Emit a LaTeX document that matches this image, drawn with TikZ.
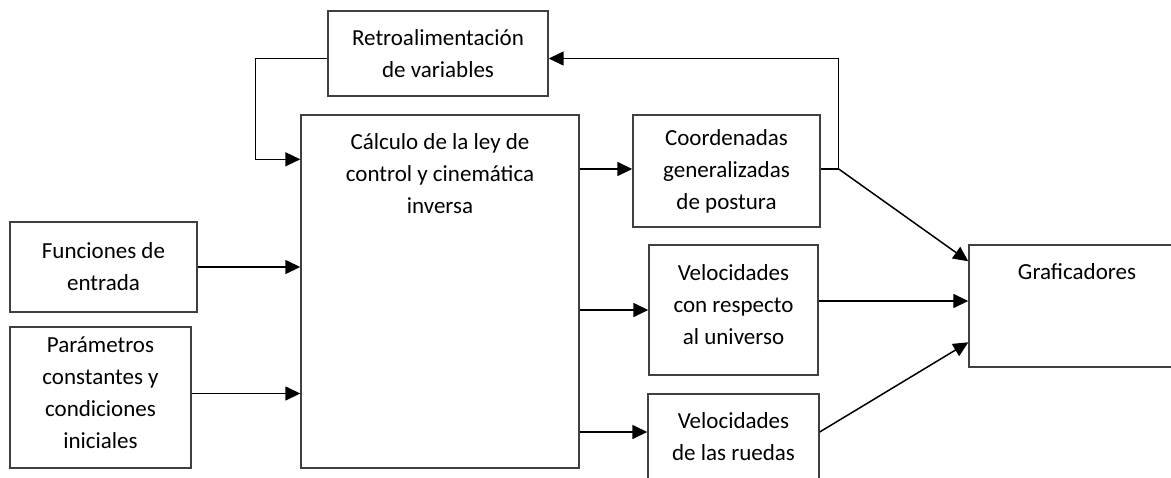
\documentclass[tikz,border=0pt]{standalone}
\usepackage{fontspec}
\setmainfont{Carlito}
\usetikzlibrary{arrows.meta}
\begin{document}
\begin{tikzpicture}
		[x=1pt, y=-1pt,
		b/.style= {draw=black!75, line width=1.4pt, rectangle, inner sep=0pt},
		t/.style= {align=center, font=\fontsize{23}{32}\selectfont, inner sep=0pt},
		a/.style= {line width=1.5pt, -{Triangle[length=15pt,width=14pt]}},
		l/.style= {line width=1.5pt}]

		\useasboundingbox (0,0) rectangle (1171,477);

		\node[b, minimum width=220, minimum height=85] (retro) at (438,53.5) {};
		\node[t] (retroT) at (retro) {Retroalimentación\\de variables};

		\node[b, minimum width=278, minimum height=353] (calc) at (440,291.5) {};
		\node[t, anchor=north] (calcT) at ([yshift=-19pt]calc.north) {Cálculo de la ley de\\control y cinemática\\inversa};

		\node[b, minimum width=187, minimum height=90] (fun) at (103.5,267) {};
		\node[t] (funT) at (fun) {Funciones de\\entrada};

		\node[b, minimum width=181, minimum height=141] (par) at (100.5,397.5) {};
		\node[t] (parT) at ([yshift=5pt]par) {Parámetros\\constantes y\\condiciones\\iniciales};

		\node[b, minimum width=187, minimum height=112] (coord) at (726.5,171) {};
		\node[t] (coordT) at (coord) {Coordenadas\\generalizadas\\de postura};

		\node[b, minimum width=169, minimum height=130] (vel) at (733.5,310) {};
		\node[t] (velT) at ([yshift=5pt]vel) {Velocidades\\con respecto\\al universo};

		\node[b, minimum width=171, minimum height=92] (rue) at (733.5,440) {};
		\node[t] (rueT) at ([yshift=3pt]rue) {Velocidades\\de las ruedas};

		\node[b, minimum width=216, minimum height=122] (graf) at (1077,306) {};
		\node[t, anchor=north] (grafT) at ([yshift=-19pt]graf.north) {Graficadores};

		\coordinate (sp) at ([xshift=18pt,yshift=2pt]coord.east);
		\coordinate (cin) at ([yshift=-45pt]calc.north west);

		\draw[a] (fun.east) -- (fun.east -| calc.west);
		\draw[a] ([yshift=4pt]par.east) -- ([yshift=4pt]par.east -| calc.west);
		\draw[a] ([yshift=-5pt]retro.west) -| ([xshift=-45pt]cin) -- (cin);

		\draw[a] ([yshift=2pt]coord.west -| calc.east) -- ([yshift=2pt]coord.west);
		\draw[a] (vel.west -| calc.east) -- (vel.west);
		\draw[a] ([yshift=8pt]rue.west -| calc.east) -- ([yshift=8pt]rue.west);

		\draw[l] ([yshift=2pt]coord.east) -- (sp);
		\draw[a] (sp) |- ([yshift=-5pt]retro.east);
		\draw[a] (sp) -- ([yshift=-17pt]graf.north west);
		\draw[a] ([yshift=9pt]vel.east) -- ([yshift=9pt]vel.east -| graf.west);
		\draw[a] ([yshift=8pt]rue.east) -- ([yshift=-98pt]graf.north west);

	\end{tikzpicture}
\end{document}
